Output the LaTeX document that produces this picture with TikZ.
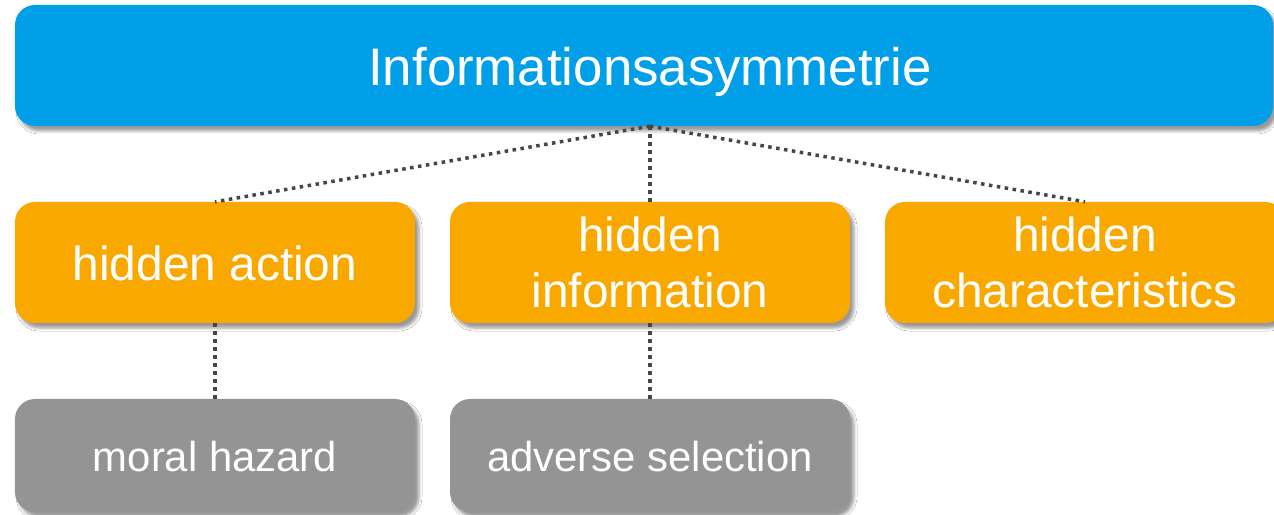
\documentclass[tikz,border=0pt]{standalone}
\usepackage{fontspec}
\setmainfont{Liberation Sans}
\usetikzlibrary{shadows.blur}
\definecolor{topblue}{RGB}{0,159,232}
\definecolor{midorange}{RGB}{249,168,0}
\definecolor{botgray}{RGB}{148,148,148}
\definecolor{dotgray}{RGB}{70,70,70}
\begin{document}
\begin{tikzpicture}[x=1bp,y=-1bp,
  box/.style={rectangle, rounded corners=20bp, text=white, align=center, inner sep=0pt,
    blur shadow={shadow xshift=4bp, shadow yshift=-5bp, shadow blur radius=3bp, shadow opacity=40}},
  topbox/.style={box, fill=topblue, minimum width=1258bp, minimum height=121bp,
    font=\fontsize{53}{60}\selectfont, text height=40bp, text depth=0bp},
  midbox/.style={box, fill=midorange, minimum width=400bp, minimum height=121bp,
    font=\fontsize{48}{56}\selectfont},
  onel/.style={text height=37bp, text depth=0bp},
  botbox/.style={box, fill=botgray, minimum width=400bp, minimum height=113bp,
    font=\fontsize{42}{50}\selectfont, text height=32bp, text depth=0bp},
  dotline/.style={draw=dotgray, line width=3.5bp, dash pattern=on 3.5bp off 4.5bp}
]
\useasboundingbox (0,0) rectangle (1274,515);
\fill[white] (0,0) rectangle (1274,515);
\node[topbox] (top) at (644,65.5) {\kern12bp Informationsasymmetrie};
\node[midbox,onel] (action) at (215,262.5) {hidden action};
\node[midbox] (info) at (650,262.5) {hidden\\information};
\node[midbox] (char) at (1085,262.5) {hidden\\characteristics};
\node[botbox] (moral) at (215,455.5) {moral hazard};
\node[botbox] (adverse) at (650,455.5) {adverse selection};
\coordinate (hub) at (top.south -| info.north);
\draw[dotline] (hub) -- (action.north);
\draw[dotline] (hub) -- (info.north);
\draw[dotline] (hub) -- (char.north);
\draw[dotline] (action.south) -- (moral.north);
\draw[dotline] (info.south) -- (adverse.north);
\end{tikzpicture}
\end{document}
